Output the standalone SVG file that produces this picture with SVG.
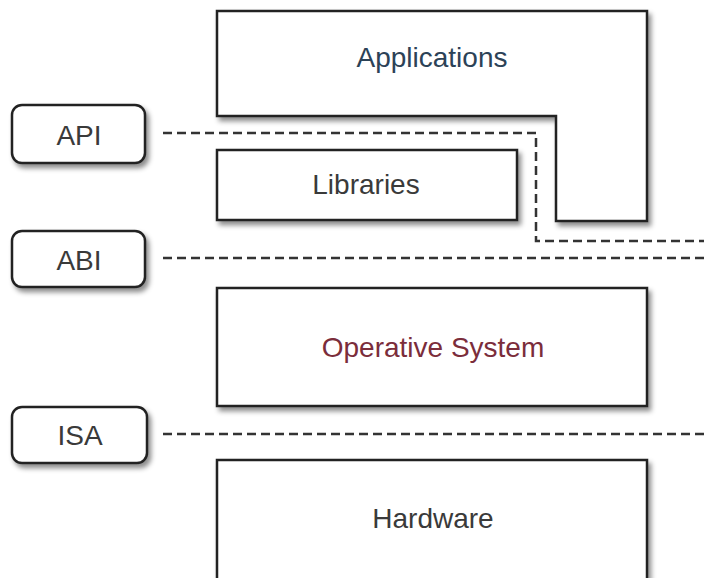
<svg xmlns="http://www.w3.org/2000/svg" width="704" height="578" viewBox="0 0 704 578">
  <defs>
    <filter id="sh" x="-10%" y="-10%" width="130%" height="140%">
      <feDropShadow dx="3" dy="4" stdDeviation="2.5" flood-color="#000" flood-opacity="0.45"/>
    </filter>
  </defs>
  <style>
    .box { fill: #ffffff; stroke: #222222; stroke-width: 2.5; filter: url(#sh); }
    .tag { fill: #ffffff; stroke: #222222; stroke-width: 2.5; filter: url(#sh); }
    .dash { fill: none; stroke: #333333; stroke-width: 2.5; stroke-dasharray: 9 5; }
    text { font-family: "Liberation Sans", Arial, sans-serif; font-size: 28px; text-anchor: middle; fill: #3a3a3a; }
    .apps { fill: #2c4257; }
    .os { fill: #7b2d3b; }
  </style>
  <rect width="704" height="578" fill="#ffffff"/>
  <g id="connectors">
    <path class="dash" d="M163 133 H536 V241 H704"/>
    <path class="dash" d="M163 258 H704"/>
    <path class="dash" d="M163 434 H704"/>
  </g>
  <g id="applications">
    <path class="box" d="M217 11 H647 V221 H556 V116 H217 Z"/>
    <text class="apps" x="432" y="67">Applications</text>
  </g>
  <g id="libraries">
    <rect class="box" x="217" y="150" width="300" height="70"/>
    <text x="366" y="194">Libraries</text>
  </g>
  <g id="os">
    <rect class="box" x="217" y="288" width="430" height="118"/>
    <text class="os" x="433" y="357">Operative System</text>
  </g>
  <g id="hardware">
    <rect class="box" x="217" y="460" width="430" height="130"/>
    <text x="433" y="528">Hardware</text>
  </g>
  <g id="api">
    <rect class="tag" x="12" y="105" width="133" height="58" rx="10"/>
    <text x="79" y="145">API</text>
  </g>
  <g id="abi">
    <rect class="tag" x="12" y="231" width="133" height="56" rx="10"/>
    <text x="79" y="270">ABI</text>
  </g>
  <g id="isa">
    <rect class="tag" x="12" y="407" width="135" height="56" rx="10"/>
    <text x="80" y="445">ISA</text>
  </g>
</svg>
